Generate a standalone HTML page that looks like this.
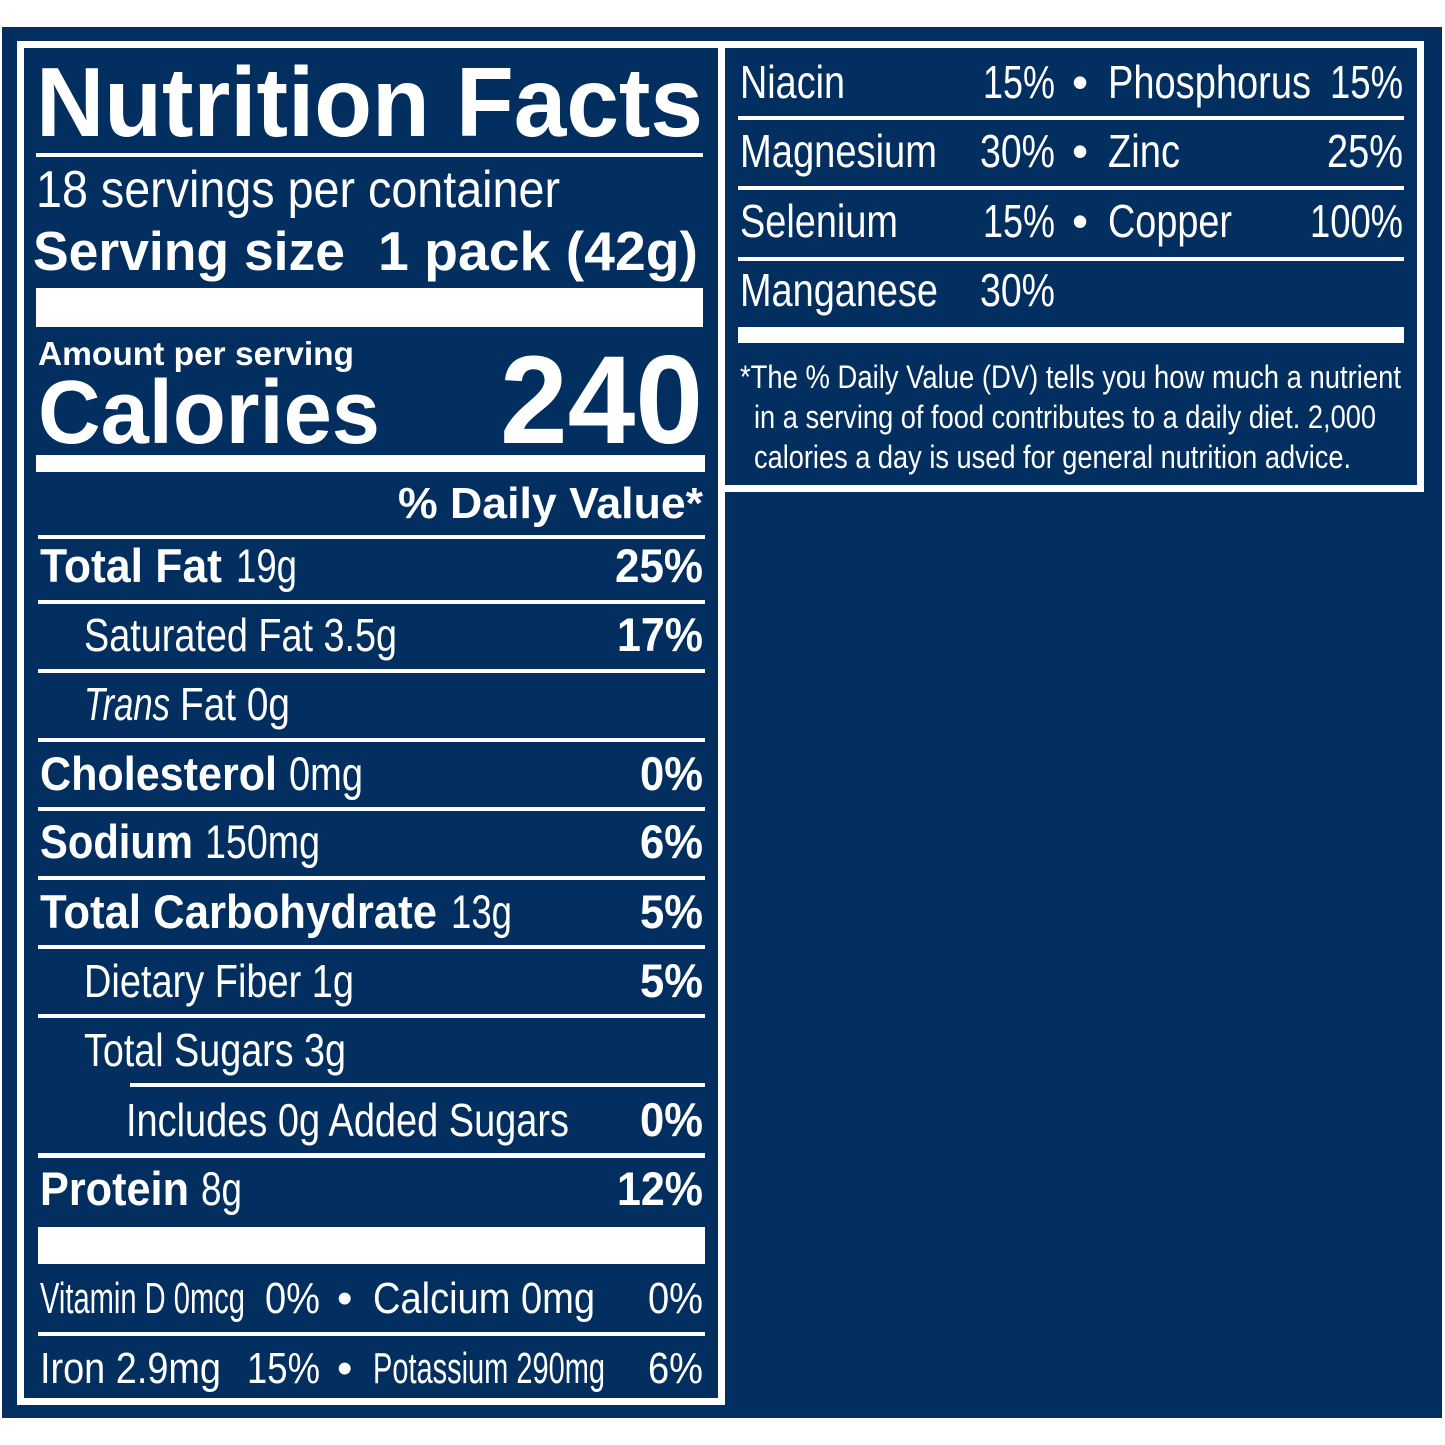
<!DOCTYPE html>
<html><head><meta charset="utf-8"><style>
html,body{margin:0;padding:0;background:#fff;}
svg{display:block;}
text{fill:#fff;font-family:"Liberation Sans",Arial,sans-serif;}
.b{font-weight:bold;}
</style></head><body>
<svg width="1445" height="1445" viewBox="0 0 1445 1445" xmlns="http://www.w3.org/2000/svg">
<rect x="2" y="27" width="1440" height="1391" fill="#032f60"/>
<!-- boxes -->
<rect x="20.5" y="44.5" width="701" height="1357" fill="none" stroke="#fff" stroke-width="7"/>
<rect x="721.5" y="44.5" width="699" height="444" fill="none" stroke="#fff" stroke-width="7"/>
<g fill="#fff">
<rect x="36" y="153" width="667" height="4"/>
<rect x="36" y="288" width="667" height="39"/>
<rect x="36" y="455" width="669" height="17"/>
<rect x="38" y="535" width="667" height="4"/>
<rect x="38" y="600" width="667" height="4"/>
<rect x="38" y="669" width="667" height="4"/>
<rect x="38" y="738" width="667" height="4"/>
<rect x="38" y="807" width="667" height="4"/>
<rect x="38" y="876" width="667" height="4"/>
<rect x="38" y="945" width="667" height="4"/>
<rect x="38" y="1014" width="667" height="4"/>
<rect x="130" y="1083" width="575" height="4"/>
<rect x="38" y="1153" width="667" height="5"/>
<rect x="38" y="1227" width="667" height="37"/>
<rect x="38" y="1332" width="667" height="4"/>
<rect x="738" y="116" width="666" height="4"/>
<rect x="738" y="186" width="666" height="4"/>
<rect x="738" y="257" width="666" height="4"/>
<rect x="738" y="327" width="666" height="16"/>
</g>
<text class="b" x="36" y="136" font-size="98" textLength="667" lengthAdjust="spacingAndGlyphs">Nutrition Facts</text>
<text x="36" y="207" font-size="52" textLength="524" lengthAdjust="spacingAndGlyphs">18 servings per container</text>
<text class="b" x="33" y="270" font-size="55" textLength="312" lengthAdjust="spacingAndGlyphs">Serving size</text>
<text class="b" x="378" y="270" font-size="55" textLength="320" lengthAdjust="spacingAndGlyphs">1 pack (42g)</text>
<text class="b" x="38" y="365" font-size="33" textLength="316" lengthAdjust="spacingAndGlyphs">Amount per serving</text>
<text class="b" x="38" y="443" font-size="90" textLength="342" lengthAdjust="spacingAndGlyphs">Calories</text>
<text class="b" x="500" y="443" font-size="125" textLength="203" lengthAdjust="spacingAndGlyphs">240</text>
<text class="b" x="398" y="518" font-size="44" textLength="305" lengthAdjust="spacingAndGlyphs">% Daily Value*</text>

<text class="b" x="40" y="582" font-size="47" textLength="182" lengthAdjust="spacingAndGlyphs">Total Fat</text>
<text x="236" y="582" font-size="47" textLength="61" lengthAdjust="spacingAndGlyphs">19g</text>
<text class="b" x="615" y="582" font-size="47" textLength="88" lengthAdjust="spacingAndGlyphs">25%</text>

<text x="84" y="651" font-size="46" textLength="313" lengthAdjust="spacingAndGlyphs">Saturated Fat 3.5g</text>
<text class="b" x="617" y="651" font-size="47" textLength="86" lengthAdjust="spacingAndGlyphs">17%</text>

<text x="84" y="720" font-size="46" font-style="italic" textLength="86" lengthAdjust="spacingAndGlyphs">Trans</text>
<text x="180" y="720" font-size="46" textLength="110" lengthAdjust="spacingAndGlyphs">Fat 0g</text>

<text class="b" x="40" y="790" font-size="47" textLength="237" lengthAdjust="spacingAndGlyphs">Cholesterol</text>
<text x="289" y="790" font-size="47" textLength="74" lengthAdjust="spacingAndGlyphs">0mg</text>
<text class="b" x="640" y="790" font-size="47" textLength="63" lengthAdjust="spacingAndGlyphs">0%</text>

<text class="b" x="40" y="858" font-size="47" textLength="153" lengthAdjust="spacingAndGlyphs">Sodium</text>
<text x="205" y="858" font-size="47" textLength="115" lengthAdjust="spacingAndGlyphs">150mg</text>
<text class="b" x="640" y="858" font-size="47" textLength="63" lengthAdjust="spacingAndGlyphs">6%</text>

<text class="b" x="40" y="928" font-size="47" textLength="397" lengthAdjust="spacingAndGlyphs">Total Carbohydrate</text>
<text x="451" y="928" font-size="47" textLength="61" lengthAdjust="spacingAndGlyphs">13g</text>
<text class="b" x="640" y="928" font-size="47" textLength="63" lengthAdjust="spacingAndGlyphs">5%</text>

<text x="84" y="997" font-size="46" textLength="270" lengthAdjust="spacingAndGlyphs">Dietary Fiber 1g</text>
<text class="b" x="640" y="997" font-size="47" textLength="63" lengthAdjust="spacingAndGlyphs">5%</text>

<text x="84" y="1066" font-size="46" textLength="262" lengthAdjust="spacingAndGlyphs">Total Sugars 3g</text>

<text x="126" y="1136" font-size="46" textLength="443" lengthAdjust="spacingAndGlyphs">Includes 0g Added Sugars</text>
<text class="b" x="640" y="1136" font-size="47" textLength="63" lengthAdjust="spacingAndGlyphs">0%</text>

<text class="b" x="40" y="1205" font-size="47" textLength="149" lengthAdjust="spacingAndGlyphs">Protein</text>
<text x="201" y="1205" font-size="47" textLength="41" lengthAdjust="spacingAndGlyphs">8g</text>
<text class="b" x="617" y="1205" font-size="47" textLength="86" lengthAdjust="spacingAndGlyphs">12%</text>

<text x="40" y="1313" font-size="44" textLength="205" lengthAdjust="spacingAndGlyphs">Vitamin D 0mcg</text>
<text x="265" y="1313" font-size="44" textLength="55" lengthAdjust="spacingAndGlyphs">0%</text>
<text x="337" y="1313" font-size="44">•</text>
<text x="373" y="1313" font-size="44" textLength="222" lengthAdjust="spacingAndGlyphs">Calcium 0mg</text>
<text x="648" y="1313" font-size="44" textLength="55" lengthAdjust="spacingAndGlyphs">0%</text>

<text x="40" y="1383" font-size="44" textLength="181" lengthAdjust="spacingAndGlyphs">Iron 2.9mg</text>
<text x="247" y="1383" font-size="44" textLength="73" lengthAdjust="spacingAndGlyphs">15%</text>
<text x="337" y="1383" font-size="44">•</text>
<text x="373" y="1383" font-size="44" textLength="232" lengthAdjust="spacingAndGlyphs">Potassium 290mg</text>
<text x="648" y="1383" font-size="44" textLength="55" lengthAdjust="spacingAndGlyphs">6%</text>

<!-- right -->
<text x="740" y="98" font-size="46" textLength="105" lengthAdjust="spacingAndGlyphs">Niacin</text>
<text x="983" y="98" font-size="46" textLength="72" lengthAdjust="spacingAndGlyphs">15%</text>
<text x="1072" y="98" font-size="46">•</text>
<text x="1108" y="98" font-size="46" textLength="203" lengthAdjust="spacingAndGlyphs">Phosphorus</text>
<text x="1330" y="98" font-size="46" textLength="73" lengthAdjust="spacingAndGlyphs">15%</text>

<text x="740" y="167" font-size="46" textLength="197" lengthAdjust="spacingAndGlyphs">Magnesium</text>
<text x="980" y="167" font-size="46" textLength="75" lengthAdjust="spacingAndGlyphs">30%</text>
<text x="1072" y="167" font-size="46">•</text>
<text x="1108" y="167" font-size="46" textLength="72" lengthAdjust="spacingAndGlyphs">Zinc</text>
<text x="1327" y="167" font-size="46" textLength="76" lengthAdjust="spacingAndGlyphs">25%</text>

<text x="740" y="237" font-size="46" textLength="158" lengthAdjust="spacingAndGlyphs">Selenium</text>
<text x="983" y="237" font-size="46" textLength="72" lengthAdjust="spacingAndGlyphs">15%</text>
<text x="1072" y="237" font-size="46">•</text>
<text x="1108" y="237" font-size="46" textLength="124" lengthAdjust="spacingAndGlyphs">Copper</text>
<text x="1310" y="237" font-size="46" textLength="93" lengthAdjust="spacingAndGlyphs">100%</text>

<text x="740" y="306" font-size="46" textLength="198" lengthAdjust="spacingAndGlyphs">Manganese</text>
<text x="980" y="306" font-size="46" textLength="75" lengthAdjust="spacingAndGlyphs">30%</text>

<text x="740" y="388" font-size="32" textLength="661" lengthAdjust="spacingAndGlyphs">*The % Daily Value (DV) tells you how much a nutrient</text>
<text x="754" y="428" font-size="32" textLength="622" lengthAdjust="spacingAndGlyphs">in a serving of food contributes to a daily diet. 2,000</text>
<text x="754" y="468" font-size="32" textLength="597" lengthAdjust="spacingAndGlyphs">calories a day is used for general nutrition advice.</text>
</svg>
</body></html>
